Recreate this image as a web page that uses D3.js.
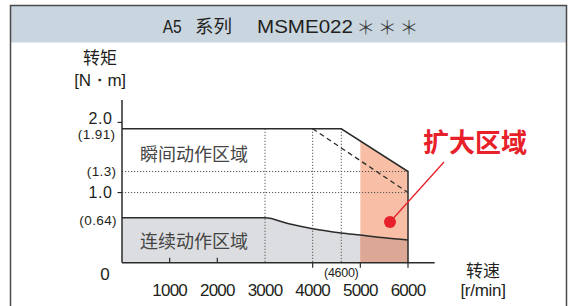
<!DOCTYPE html>
<html><head><meta charset="utf-8">
<script src="https://cdn.jsdelivr.net/npm/d3@7"></script>
<style>
html,body{margin:0;padding:0;background:#fff;}
svg{display:block;}
.lat{font-family:"Liberation Sans",Arial,Helvetica,sans-serif;fill:#231f20;}
.cjk{font-family:"Noto Sans CJK SC","Noto Sans",sans-serif;fill:#231f20;}
</style></head>
<body>
<svg id="c" width="572" height="306"></svg>
<script>
// ---- data ----
const titleSeries = "A5";
const titleSeriesCjk = "系列";
const titleModel = "MSME022";
const titleStars = ["＊", "＊", "＊"];
const speedTicks = [1000, 2000, 3000, 4000, 5000, 6000];
const speedTickLabels = ["1000", "2000", "3000", "4000", "5000", "6000"];
const instSpeed = [0, 4600, 6000];
const instTorque = [1.91, 1.91, 1.3];
const dashSpeed = [4000, 6000];
const dashTorque = [1.91, 1.0];
const contSpeed = [0, 3000, 3500, 4000, 4600, 5000, 5500, 6000];
const contTorque = [0.64, 0.64, 0.555, 0.485, 0.425, 0.395, 0.355, 0.325];
const expandRange = [5000, 6000];
const gridTorque = [1.3, 1.0];
const gridSpeed = [3000, 4000, 4600];
const yMajorTicks = [2.0, 1.0];
const yMajorLabels = ["2.0", "1.0"];
const yMinorTicks = [1.91, 1.3, 0.64];
const yMinorLabels = ["(1.91)", "(1.3)", "(0.64)"];

const svg = d3.select("#c");
const x = d3.scaleLinear().domain([0, 6560]).range([122, 434.7]);
const y = d3.scaleLinear().domain([0, 2.32]).range([262.7, 100]);
const ink = "#2b2b2b";

// frame + header
svg.append("rect").attr("x", 10.5).attr("y", 5.5).attr("width", 556).attr("height", 37).attr("fill", "#c9d5df");
svg.append("path").attr("d", "M10.5,320 V5.5 H566.5 V320").attr("fill", "none").attr("stroke", "#4a4a4a").attr("stroke-width", 1.5);
svg.append("text").attr("class", "lat").attr("x", 162.7).attr("y", 33.3).attr("font-size", 18.6)
  .attr("textLength", 19).attr("lengthAdjust", "spacingAndGlyphs").text(titleSeries);
svg.append("text").attr("class", "cjk").attr("x", 195).attr("y", 33.3).attr("font-size", 18.6)
  .attr("textLength", 37).attr("lengthAdjust", "spacingAndGlyphs").text(titleSeriesCjk);
svg.append("text").attr("class", "lat").attr("x", 257).attr("y", 33.3).attr("font-size", 18.6)
  .attr("textLength", 96).attr("lengthAdjust", "spacingAndGlyphs").text(titleModel);
const starX = [365.7, 387.3, 409];
titleStars.forEach((s, i) => {
  svg.append("text").attr("class", "cjk").attr("x", starX[i]).attr("y", 35).attr("text-anchor", "middle")
    .attr("font-size", 19).attr("font-weight", 300).style("fill", "#3a3a3a").text(s);
});

const inst = instSpeed.map((s, i) => ({s, t: instTorque[i]}));
const cont = contSpeed.map((s, i) => ({s, t: contTorque[i]}));

// clip for expand region
svg.append("clipPath").attr("id", "exp").append("rect")
  .attr("x", x(expandRange[0])).attr("y", 0).attr("width", x(expandRange[1]) - x(expandRange[0])).attr("height", 400);

const areaInst = d3.area().x(d => x(d.s)).y0(y(0)).y1(d => y(d.t));
const areaCont = d3.area().x(d => x(d.s)).y0(y(0)).y1(d => y(d.t)).curve(d3.curveMonotoneX);
const lineCont = d3.line().x(d => x(d.s)).y(d => y(d.t)).curve(d3.curveMonotoneX);

svg.append("path").attr("d", areaCont(cont)).attr("fill", "#dcdde0");
svg.append("path").attr("d", areaInst(inst)).attr("fill", "#f8bea6").attr("clip-path", "url(#exp)");
svg.append("path").attr("d", areaCont(cont)).attr("fill", "#dca895").attr("clip-path", "url(#exp)");

// grid dotted
gridTorque.forEach(t => {
  svg.append("line").attr("x1", x(0)).attr("x2", x(6000)).attr("y1", y(t)).attr("y2", y(t))
    .attr("stroke", "#555").attr("stroke-width", 1).attr("stroke-dasharray", "1.2,1.8");
});
gridSpeed.forEach(s => {
  svg.append("line").attr("x1", x(s)).attr("x2", x(s)).attr("y1", y(1.91)).attr("y2", y(0))
    .attr("stroke", "#555").attr("stroke-width", 1).attr("stroke-dasharray", "1.2,1.8");
});

// dashed
svg.append("line").attr("x1", x(dashSpeed[0])).attr("y1", y(dashTorque[0]))
  .attr("x2", x(dashSpeed[1])).attr("y2", y(dashTorque[1]))
  .attr("stroke", ink).attr("stroke-width", 1.3).attr("stroke-dasharray", "5,3.5");

// instantaneous outline
const instOutline = inst.concat([{s: 6000, t: 0}]);
svg.append("path").attr("d", d3.line().x(d => x(d.s)).y(d => y(d.t))(instOutline))
  .attr("fill", "none").attr("stroke", ink).attr("stroke-width", 1.5);
svg.append("path").attr("d", lineCont(cont)).attr("fill", "none").attr("stroke", ink).attr("stroke-width", 1.5);

// axes
svg.append("line").attr("x1", x(0)).attr("x2", x(0)).attr("y1", y(0)).attr("y2", 100).attr("stroke", ink).attr("stroke-width", 1.5);
svg.append("line").attr("x1", x(0)).attr("x2", 434.7).attr("y1", y(0)).attr("y2", y(0)).attr("stroke", ink).attr("stroke-width", 1.5);

const yMajorBase = [123.5, 198];
yMajorTicks.forEach((t, i) => {
  svg.append("line").attr("x1", x(0) - 4.5).attr("x2", x(0)).attr("y1", y(t)).attr("y2", y(t)).attr("stroke", ink).attr("stroke-width", 1.2);
  svg.append("text").attr("class", "lat").attr("x", 112.5).attr("y", yMajorBase[i]).attr("text-anchor", "end")
    .attr("font-size", 16).attr("letter-spacing", 0.6).text(yMajorLabels[i]);
});
const yMinorBase = [139, 175.5, 225];
const yMinorRight = [115.5, 116.5, 117];
yMinorTicks.forEach((t, i) => {
  svg.append("text").attr("class", "lat").attr("x", yMinorRight[i]).attr("y", yMinorBase[i]).attr("text-anchor", "end")
    .attr("font-size", 13.5).attr("letter-spacing", 0.4).text(yMinorLabels[i]);
});
svg.append("text").attr("class", "lat").attr("x", 105).attr("y", 280).attr("text-anchor", "middle")
  .attr("font-size", 17).text("0");

speedTicks.forEach((s, i) => {
  if (s < 3000) {
    svg.append("line").attr("x1", x(s)).attr("x2", x(s)).attr("y1", y(0) - 5).attr("y2", y(0)).attr("stroke", ink).attr("stroke-width", 1.2);
  } else if (s > 3000) {
    svg.append("line").attr("x1", x(s)).attr("x2", x(s)).attr("y1", y(0)).attr("y2", y(0) + 5).attr("stroke", ink).attr("stroke-width", 1.2);
  }
  svg.append("text").attr("class", "lat").attr("x", x(s)).attr("y", 295.5).attr("text-anchor", "middle")
    .attr("font-size", 17).attr("letter-spacing", -0.8).text(speedTickLabels[i]);
});
svg.append("text").attr("class", "lat").attr("x", x(4600)).attr("y", 277).attr("text-anchor", "middle")
  .attr("font-size", 12.5).attr("letter-spacing", -0.3).text("(4600)");

// axis titles
svg.append("text").attr("class", "cjk").attr("x", 100).attr("y", 64).attr("text-anchor", "middle").attr("font-size", 17).text("转矩");
svg.append("text").attr("class", "lat").attr("x", 100).attr("y", 86).attr("text-anchor", "middle").attr("font-size", 17).attr("letter-spacing", -0.3).text("[N・m]");
svg.append("text").attr("class", "cjk").attr("x", 483).attr("y", 277).attr("text-anchor", "middle").attr("font-size", 17).text("转速");
svg.append("text").attr("class", "lat").attr("x", 483).attr("y", 296).attr("text-anchor", "middle").attr("font-size", 17).attr("letter-spacing", -0.3).text("[r/min]");

// region labels
svg.append("text").attr("class", "cjk").attr("x", 194).attr("y", 161).attr("text-anchor", "middle").attr("font-size", 18).style("fill", "#444").text("瞬间动作区域");
svg.append("text").attr("class", "cjk").attr("x", 194).attr("y", 248).attr("text-anchor", "middle").attr("font-size", 18).style("fill", "#444").text("连续动作区域");

// expand annotation
const red = "#e8202a";
svg.append("line").attr("x1", 444).attr("y1", 162).attr("x2", 390).attr("y2", 222).attr("stroke", red).attr("stroke-width", 1.3);
svg.append("circle").attr("cx", 390).attr("cy", 222).attr("r", 6).attr("fill", red);
svg.append("text").attr("class", "cjk").attr("x", 475).attr("y", 152).attr("text-anchor", "middle")
  .attr("font-size", 26).attr("font-weight", 700).style("fill", red).text("扩大区域");
</script>
</body></html>
